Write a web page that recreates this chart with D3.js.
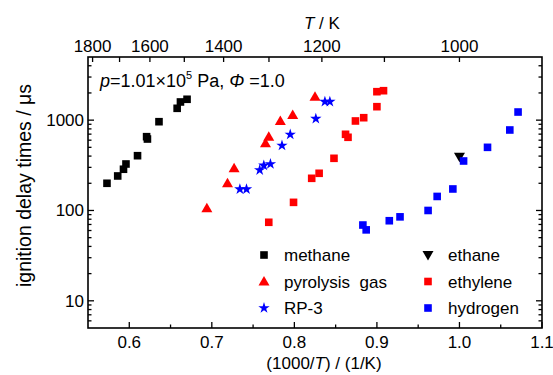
<!DOCTYPE html>
<html>
<head>
<meta charset="utf-8">
<script src="https://cdn.jsdelivr.net/npm/d3@7"></script>
<style>
    body { margin: 0; background: #fff; }
    text { font-family: "Liberation Sans", Arial, sans-serif; fill: #000; }
</style>
</head>
<body>
<svg id="chart" width="553" height="375"></svg>
<script>
// data: [1000/T (1/K), ignition delay (us)]
var methane = [[0.573, 200], [0.586, 241], [0.593, 286], [0.596, 327], [0.610, 404],
    [0.621, 656], [0.622, 618], [0.636, 961], [0.658, 1352], [0.662, 1589], [0.670, 1702]];
var pyrolysisGas = [[0.694, 106], [0.719, 200], [0.727, 293], [0.765, 554], [0.769, 656],
    [0.783, 979], [0.798, 1140], [0.825, 1818]];
var rp3 = [[0.734, 172], [0.742, 172], [0.758, 280], [0.763, 315], [0.771, 327],
    [0.785, 524], [0.795, 694], [0.826, 1037], [0.837, 1600], [0.843, 1600]];
var ethane = [[1.000, 394]];
var ethylene = [[0.769, 74], [0.799, 123], [0.821, 227], [0.830, 258], [0.848, 378],
    [0.862, 697], [0.865, 646], [0.874, 979], [0.884, 1064], [0.900, 1409], [0.900, 2065], [0.908, 2118]];
var hydrogen = [[0.883, 69], [0.887, 61], [0.915, 77], [0.928, 85], [0.962, 100],
    [0.973, 143], [0.992, 173], [1.005, 353], [1.034, 500], [1.061, 778], [1.071, 1230]];

var xTicks = [0.6, 0.7, 0.8, 0.9, 1.0, 1.1];
var xMinor = [0.65, 0.75, 0.85, 0.95, 1.05];
var yTicks = [10, 100, 1000];
var topTemps = [1800, 1700, 1600, 1500, 1400, 1300, 1200, 1100, 1000];
var topLabels = [1800, 1600, 1400, 1200, 1000];

var series = [
    {name: "methane", data: methane, shape: "square", color: "#000000"},
    {name: "pyrolysis  gas", data: pyrolysisGas, shape: "triangle", color: "#ff0000"},
    {name: "RP-3", data: rp3, shape: "star", color: "#0000ff"},
    {name: "ethane", data: ethane, shape: "down", color: "#000000"},
    {name: "ethylene", data: ethylene, shape: "square", color: "#ff0000"},
    {name: "hydrogen", data: hydrogen, shape: "square", color: "#0000ff"}
];

(function () {
    var svg = d3.select("#chart");
    var pl = 88, pr = 542, pt = 57, pb = 328;

    var x = d3.scaleLinear().domain([0.55, 1.1]).range([pl, pr]);
    var y = d3.scaleLog().domain([5, 5000]).range([pb, pt]);

    // minor ticks of the log axis: every integer multiple inside the domain
    var yMinor = [];
    [1, 10, 100, 1000].forEach(function (dec) {
        for (var k = 2; k <= 9; k++) {
            var v = k * dec;
            if (v > 5 && v < 5000) yMinor.push(v);
        }
    });

    var major = 6, minor = 3.5;
    var g = svg.append("g").attr("stroke", "#000").attr("stroke-width", 1.3);

    // bottom / top ticks, pointing inwards
    xTicks.forEach(function (t) {
        g.append("line").attr("x1", x(t)).attr("x2", x(t)).attr("y1", pb).attr("y2", pb - major);
    });
    xMinor.forEach(function (t) {
        g.append("line").attr("x1", x(t)).attr("x2", x(t)).attr("y1", pb).attr("y2", pb - minor);
    });
    topTemps.forEach(function (T) {
        var px = x(1000 / T);
        g.append("line").attr("x1", px).attr("x2", px).attr("y1", pt).attr("y2", pt + 5);
    });

    // left / right ticks
    yTicks.forEach(function (t) {
        g.append("line").attr("x1", pl).attr("x2", pl + major).attr("y1", y(t)).attr("y2", y(t));
        g.append("line").attr("x1", pr).attr("x2", pr - major).attr("y1", y(t)).attr("y2", y(t));
    });
    yMinor.forEach(function (t) {
        g.append("line").attr("x1", pl).attr("x2", pl + minor).attr("y1", y(t)).attr("y2", y(t));
        g.append("line").attr("x1", pr).attr("x2", pr - minor).attr("y1", y(t)).attr("y2", y(t));
    });

    svg.append("rect")
        .attr("x", pl).attr("y", pt)
        .attr("width", pr - pl).attr("height", pb - pt)
        .attr("fill", "none").attr("stroke", "#000").attr("stroke-width", 1.6);

    // tick labels
    svg.selectAll(".xlab").data(xTicks).enter().append("text")
        .attr("x", function (d) { return x(d); }).attr("y", pb + 20)
        .attr("text-anchor", "middle").attr("font-size", "17px")
        .text(d3.format(".1f"));

    svg.selectAll(".tlab").data(topLabels).enter().append("text")
        .attr("x", function (d) { return x(1000 / d); }).attr("y", pt - 5)
        .attr("text-anchor", "middle").attr("font-size", "17px")
        .text(function (d) { return d; });

    svg.selectAll(".ylab").data(yTicks).enter().append("text")
        .attr("x", pl - 4).attr("y", function (d) { return y(d) + 6; })
        .attr("text-anchor", "end").attr("font-size", "17px")
        .text(function (d) { return d; });

    // axis titles
    var xt = svg.append("text").attr("x", 324).attr("y", 369)
        .attr("text-anchor", "middle").attr("font-size", "17px");
    xt.append("tspan").text("(1000/");
    xt.append("tspan").attr("font-style", "italic").text("T");
    xt.append("tspan").text(") / (1/K)");

    var tt = svg.append("text").attr("x", x(1000 / 1200)).attr("y", 29)
        .attr("text-anchor", "middle").attr("font-size", "17px");
    tt.append("tspan").attr("font-style", "italic").text("T");
    tt.append("tspan").text(" / K");

    svg.append("text")
        .attr("transform", "translate(31," + ((pt + pb) / 2 - 7) + ") rotate(-90)")
        .attr("text-anchor", "middle").attr("font-size", "19.5px")
        .text("ignition delay times / \u03bcs");

    // condition note
    var note = svg.append("text").attr("x", 100).attr("y", 87).attr("font-size", "18px");
    note.append("tspan").attr("font-style", "italic").text("p");
    note.append("tspan").text("=1.01\u00d710");
    note.append("tspan").attr("font-size", "11px").attr("dy", -8).text("5");
    note.append("tspan").attr("dy", 8).text(" Pa, ");
    note.append("tspan").attr("font-style", "italic").text("\u03a6");
    note.append("tspan").text(" =1.0");

    // markers
    function marker(sel, shape, color) {
        if (shape === "square") {
            sel.append("rect").attr("x", -3.8).attr("y", -3.8).attr("width", 7.6).attr("height", 7.6)
                .attr("fill", color);
        } else if (shape === "triangle") {
            sel.append("path").attr("d", "M0,-5.5L5.5,4L-5.5,4Z").attr("fill", color);
        } else if (shape === "down") {
            sel.append("path").attr("d", "M0,5.5L5.5,-4L-5.5,-4Z").attr("fill", color);
        } else {
            sel.append("path").attr("d", d3.symbol().type(d3.symbolStar).size(40)()).attr("fill", color);
        }
    }

    series.forEach(function (s) {
        s.data.forEach(function (d) {
            var p = svg.append("g").attr("transform", "translate(" + x(d[0]) + "," + y(d[1]) + ")");
            marker(p, s.shape, s.color);
        });
    });

    // legend, two columns of three
    series.forEach(function (s, i) {
        var col = Math.floor(i / 3), row = i % 3;
        var lx = 264 + col * 164, ly = 255 + row * 26.5;
        var p = svg.append("g").attr("transform", "translate(" + lx + "," + ly + ")");
        marker(p, s.shape, s.color);
        svg.append("text").attr("x", lx + 20).attr("y", ly + 6).attr("font-size", "17px")
            .style("white-space", "pre")
            .text(s.name);
    });
})();
</script>
</body>
</html>
